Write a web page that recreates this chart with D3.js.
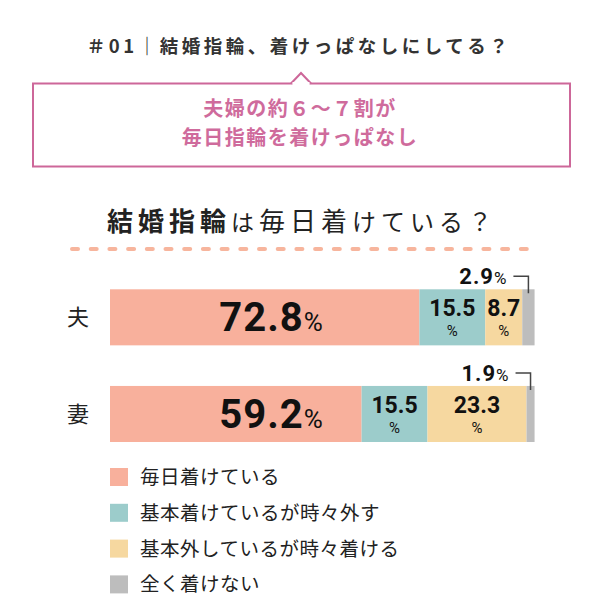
<!DOCTYPE html>
<html>
<head>
  <meta charset="utf-8">
  <script src="https://d3js.org/d3.v7.min.js"></script>
  <style>
    body { margin: 0; background: #fff; }
    svg text { font-family: "Noto Sans CJK JP", "Noto Sans", sans-serif; }
    .num { font-family: "Liberation Sans Narrow", "Roboto", "Liberation Sans", sans-serif; font-weight: bold; }
  </style>
</head>
<body>
<script>
  // chart data
  var categories = ["夫", "妻"];
  var seriesNames = ["毎日着けている", "基本着けているが時々外す", "基本外しているが時々着ける", "全く着けない"];
  var daily = [72.8, 59.2];
  var sometimesOff = [15.5, 15.5];
  var sometimesOn = [8.7, 23.3];
  var never = [2.9, 1.9];
  var seriesColors = ["#f8b09c", "#9ccccb", "#f6d8a0", "#bdbdbd"];

  var width = 603, height = 609;
  var svg = d3.select("body").append("svg")
    .attr("width", width)
    .attr("height", height);

  // top heading
  svg.append("text")
    .attr("x", 299).attr("y", 53)
    .attr("text-anchor", "middle")
    .style("font-size", "18.5px").style("font-weight", "bold")
    .style("fill", "#333").style("letter-spacing", "3.5px")
    .text("＃01｜結婚指輪、着けっぱなしにしてる？");

  // callout box with notch
  svg.append("rect")
    .attr("x", 33).attr("y", 83.5)
    .attr("width", 537).attr("height", 83)
    .style("fill", "none").style("stroke", "#cd6799").style("stroke-width", 2);
  svg.append("path")
    .attr("d", "M291,83.5 L301,73 L311,83.5")
    .style("fill", "#fff").style("stroke", "#cd6799").style("stroke-width", 2);
  svg.append("rect").attr("x", 292.5).attr("y", 82).attr("width", 17).attr("height", 3).style("fill", "#fff");

  var callLines = ["夫婦の約６～７割が", "毎日指輪を着けっぱなし"];
  svg.selectAll("text.call")
    .data(callLines).enter().append("text")
    .attr("class", "call")
    .attr("x", 300)
    .attr("y", function (d, i) { return 116 + i * 29; })
    .attr("text-anchor", "middle")
    .style("font-size", "20px").style("font-weight", "bold")
    .style("fill", "#cf6b9c").style("letter-spacing", "1.5px")
    .text(function (d) { return d; });

  // chart title
  var title = svg.append("text")
    .attr("x", 302).attr("y", 231)
    .attr("text-anchor", "middle")
    .style("fill", "#222").style("letter-spacing", "5px");
  title.append("tspan").style("font-size", "26px").style("font-weight", "bold").text("結婚指輪");
  title.append("tspan").style("font-size", "23px").text("は");
  title.append("tspan").style("font-size", "26px").text("毎日着");
  title.append("tspan").style("font-size", "24px").text("けている？");

  svg.append("line")
    .attr("x1", 72).attr("x2", 530)
    .attr("y1", 249).attr("y2", 249)
    .style("stroke", "#f7b59d").style("stroke-width", 4)
    .style("stroke-linecap", "round")
    .style("stroke-dasharray", "6 12.7");

  // scales
  var x = d3.scaleLinear().domain([0, 100]).range([110, 535]);
  var y = d3.scaleBand().domain(categories).range([289.3, 442]).paddingInner(0.42);

  var rows = categories.map(function (c, i) {
    return { cat: c, vals: [daily[i], sometimesOff[i], sometimesOn[i], never[i]] };
  });
  var stack = d3.stack().keys(d3.range(4))(rows.map(function (r) { return r.vals; }));

  var layers = svg.selectAll("g.layer")
    .data(stack).enter().append("g")
    .attr("class", "layer")
    .style("fill", function (d, i) { return seriesColors[i]; });

  layers.selectAll("rect")
    .data(function (d) { return d; }).enter().append("rect")
    .attr("x", function (d) { return x(d[0]); })
    .attr("y", function (d, i) { return y(categories[i]); })
    .attr("width", function (d) { return x(d[1]) - x(d[0]); })
    .attr("height", y.bandwidth());

  // row labels
  svg.selectAll("text.row")
    .data(categories).enter().append("text")
    .attr("class", "row")
    .attr("x", 78)
    .attr("y", function (d) { return y(d) + y.bandwidth() / 2 + 8; })
    .attr("text-anchor", "middle")
    .style("font-size", "22px").style("fill", "#222")
    .text(function (d) { return d; });

  // big labels for daily
  var big = svg.selectAll("text.big")
    .data(rows).enter().append("text")
    .attr("class", "num big")
    .attr("x", x(38))
    .attr("y", function (d) { return y(d.cat) + 42; })
    .attr("text-anchor", "middle")
    .style("fill", "#111").style("letter-spacing", "1px");
  big.append("tspan").style("font-size", "40px").text(function (d) { return d.vals[0].toFixed(1); });
  big.append("tspan").style("font-size", "26px").style("font-weight", "normal").text("%");

  // two-line labels for middle segments
  [1, 2].forEach(function (k) {
    svg.selectAll("text.mid" + k)
      .data(stack[k]).enter().append("text")
      .attr("class", "num mid" + k)
      .attr("text-anchor", "middle")
      .attr("x", function (d) { return x((d[0] + d[1]) / 2); })
      .attr("y", function (d, i) { return y(categories[i]) + 27; })
      .style("fill", "#111").style("font-size", "23px")
      .text(function (d) { return (d[1] - d[0]).toFixed(1); });
    svg.selectAll("text.pct" + k)
      .data(stack[k]).enter().append("text")
      .attr("class", "num pct" + k)
      .attr("text-anchor", "middle")
      .attr("x", function (d) { return x((d[0] + d[1]) / 2); })
      .attr("y", function (d, i) { return y(categories[i]) + 47; })
      .style("fill", "#111").style("font-size", "15px").style("font-weight", "normal")
      .text("%");
  });

  // callouts for never
  stack[3].forEach(function (d, i) {
    var mid = x((d[0] + d[1]) / 2);
    var top = y(categories[i]);
    svg.append("path")
      .attr("d", "M" + (mid - 15) + "," + (top - 13) + " H" + mid + " V" + (top + 4))
      .style("fill", "none").style("stroke", "#444").style("stroke-width", 1.5);
    var t = svg.append("text")
      .attr("class", "num")
      .attr("x", mid - 21).attr("y", top - 5)
      .attr("text-anchor", "end")
      .style("fill", "#111").style("letter-spacing", "1px");
    t.append("tspan").style("font-size", "22px").text((d[1] - d[0]).toFixed(1));
    t.append("tspan").style("font-size", "17px").style("font-weight", "normal").text("%");
  });

  // legend
  var legend = svg.selectAll("g.legend")
    .data(seriesNames).enter().append("g")
    .attr("class", "legend")
    .attr("transform", function (d, i) { return "translate(110," + (468 + i * 35.8) + ")"; });
  legend.append("rect")
    .attr("width", 18).attr("height", 18)
    .style("fill", function (d, i) { return seriesColors[i]; });
  legend.append("text")
    .attr("x", 30).attr("y", 16)
    .style("font-size", "19.5px").style("fill", "#222")
    .style("letter-spacing", "0.5px")
    .text(function (d) { return d; });
</script>
</body>
</html>
